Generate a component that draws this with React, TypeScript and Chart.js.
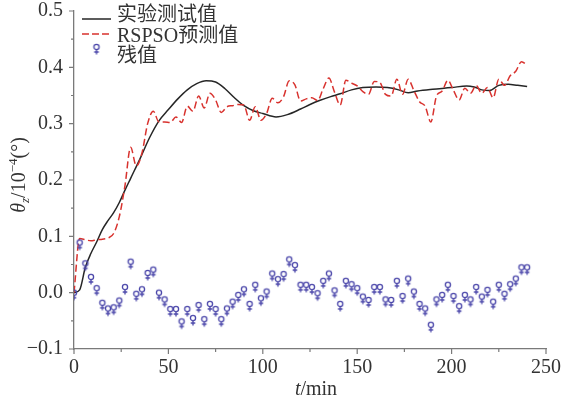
import React, { useEffect, useRef } from 'react';
import { Chart, registerables } from 'chart.js';

Chart.register(...registerables);

// ---------- data ----------
const measuredTimes = [0, 3, 6, 9, 12, 15, 18, 21, 24, 27, 30, 35, 40, 45, 50, 55, 60, 65, 70, 75, 80, 85, 90, 95, 100, 107, 113, 120, 125, 130, 136, 141, 147, 153, 160, 166, 172, 177, 182, 190, 200, 208, 212, 216, 220, 225, 230, 235, 240];
const measuredValues = [0, 0.005, 0.045, 0.07, 0.09, 0.112, 0.128, 0.142, 0.16, 0.182, 0.203, 0.238, 0.275, 0.305, 0.325, 0.344, 0.36, 0.371, 0.376, 0.374, 0.362, 0.346, 0.332, 0.323, 0.318, 0.312, 0.316, 0.326, 0.334, 0.341, 0.348, 0.353, 0.36, 0.364, 0.365, 0.364, 0.36, 0.355, 0.358, 0.361, 0.364, 0.367, 0.365, 0.36, 0.359, 0.368, 0.37, 0.368, 0.366];

const sampleTimes = [0, 3, 6, 9, 12, 15, 18, 21, 24, 27, 30, 33, 36, 39, 42, 45, 48, 51, 54, 57, 60, 63, 66, 69, 72, 75, 78, 81, 84, 87, 90, 93, 96, 99, 102, 105, 108, 111, 114, 117, 120, 123, 126, 129, 132, 135, 138, 141, 144, 147, 150, 153, 156, 159, 162, 165, 168, 171, 174, 177, 180, 183, 186, 189, 192, 195, 198, 201, 204, 207, 210, 213, 216, 219, 222, 225, 228, 231, 234, 237, 240];
const predictedValues = [0, 0.096, 0.094, 0.092, 0.094, 0.095, 0.097, 0.105, 0.135, 0.19, 0.258, 0.225, 0.248, 0.3, 0.322, 0.303, 0.303, 0.302, 0.312, 0.302, 0.331, 0.322, 0.349, 0.328, 0.354, 0.342, 0.32, 0.33, 0.332, 0.334, 0.333, 0.306, 0.33, 0.306, 0.318, 0.345, 0.337, 0.348, 0.376, 0.369, 0.34, 0.344, 0.346, 0.341, 0.362, 0.381, 0.356, 0.333, 0.377, 0.372, 0.367, 0.357, 0.352, 0.375, 0.373, 0.352, 0.349, 0.379, 0.352, 0.379, 0.359, 0.339, 0.331, 0.303, 0.349, 0.358, 0.377, 0.359, 0.342, 0.363, 0.354, 0.368, 0.354, 0.364, 0.346, 0.379, 0.368, 0.385, 0.393, 0.41, 0.404];
const residualValues = [0, 0.089, 0.052, 0.028, 0.008, -0.018, -0.028, -0.026, -0.014, 0.01, 0.055, -0.002, 0.006, 0.035, 0.041, 0, -0.012, -0.029, -0.029, -0.051, -0.029, -0.045, -0.022, -0.047, -0.02, -0.029, -0.047, -0.028, -0.016, -0.004, 0.006, -0.02, 0.014, -0.01, 0.002, 0.034, 0.024, 0.033, 0.059, 0.049, 0.014, 0.014, 0.01, -0.001, 0.021, 0.034, 0.004, -0.02, 0.021, 0.015, 0.008, -0.007, -0.013, 0.01, 0.01, -0.012, -0.013, 0.021, -0.006, 0.025, 0.002, -0.02, -0.028, -0.057, -0.012, -0.004, 0.014, -0.006, -0.024, -0.004, -0.012, 0.01, -0.007, 0.005, -0.016, 0.014, -0.002, 0.015, 0.025, 0.045, 0.045];

const xMajorTicks = [0, 50, 100, 150, 200, 250];
const xMinorTicks = [25, 75, 125, 175, 225];
const yMajorTicks = [-0.1, 0, 0.1, 0.2, 0.3, 0.4, 0.5];
const yMinorTicks = [-0.05, 0.05, 0.15, 0.25, 0.35, 0.45];

const seriesLabels = ['实验测试值', 'RSPSO预测值', '残值'];

// ---------- styles ----------
const BLACK = '#262626';
const RED = '#d8322e';
const BLUE = '#4b47aa';
const AXIS = '#7a7a7a';
const TEXT = '#333333';
const SERIF = "'Liberation Serif', 'Noto Sans CJK SC', serif";

function makeFemaleMarker(color: string): HTMLCanvasElement {
  const c = document.createElement('canvas');
  c.width = 10;
  c.height = 18;
  const g = c.getContext('2d')!;
  const cx = 5, cy = 9, r = 2.6;
  g.strokeStyle = color;
  g.lineWidth = 1.3;
  g.beginPath();
  g.arc(cx, cy, r, 0, Math.PI * 2);
  g.stroke();
  g.beginPath();
  g.moveTo(cx, cy + r);
  g.lineTo(cx, cy + r + 4.8);
  g.moveTo(cx - 2.3, cy + r + 2.4);
  g.lineTo(cx + 2.3, cy + r + 2.4);
  g.stroke();
  return c;
}

const zeroPadding = (s: any) => {
  s.paddingTop = 0;
  s.paddingBottom = 0;
  s.paddingLeft = 0;
  s.paddingRight = 0;
};

export default function App() {
  const canvasRef = useRef<HTMLCanvasElement | null>(null);

  useEffect(() => {
    const canvas = canvasRef.current;
    if (!canvas) return;
    const marker = makeFemaleMarker(BLUE);

    const decor = {
      id: 'decor',
      afterDraw(chart: any) {
        const { ctx, chartArea: a, scales } = chart;
        const x = scales.x, y = scales.y;
        ctx.save();
        // outward ticks
        ctx.strokeStyle = AXIS;
        ctx.lineWidth = 1.2;
        ctx.beginPath();
        xMajorTicks.forEach((v) => { const p = x.getPixelForValue(v); ctx.moveTo(p, a.bottom); ctx.lineTo(p, a.bottom + 5); });
        xMinorTicks.forEach((v) => { const p = x.getPixelForValue(v); ctx.moveTo(p, a.bottom); ctx.lineTo(p, a.bottom + 3); });
        yMajorTicks.forEach((v) => { const p = y.getPixelForValue(v); ctx.moveTo(a.left, p); ctx.lineTo(a.left - 5, p); });
        yMinorTicks.forEach((v) => { const p = y.getPixelForValue(v); ctx.moveTo(a.left, p); ctx.lineTo(a.left - 3, p); });
        ctx.stroke();

        ctx.fillStyle = TEXT;
        // x title: t/min
        ctx.textBaseline = 'alphabetic';
        ctx.textAlign = 'left';
        const xt1 = 't', xt2 = '/min';
        ctx.font = `italic 20px ${SERIF}`;
        const w1 = ctx.measureText(xt1).width;
        ctx.font = `20px ${SERIF}`;
        const w2 = ctx.measureText(xt2).width;
        const xc = (a.left + a.right) / 2 + 6;
        const xs = xc - (w1 + w2) / 2;
        ctx.font = `italic 20px ${SERIF}`;
        ctx.fillText(xt1, xs, 395);
        ctx.font = `20px ${SERIF}`;
        ctx.fillText(xt2, xs + w1, 395);

        // y title: θz/10^-4(°)
        const pieces = [
          { t: 'θ', f: `italic 20px ${SERIF}`, dy: 0 },
          { t: 'z', f: `italic 13px ${SERIF}`, dy: 4 },
          { t: '/10', f: `20px ${SERIF}`, dy: 0 },
          { t: '−4', f: `13px ${SERIF}`, dy: -8 },
          { t: '(°)', f: `20px ${SERIF}`, dy: 0 },
        ];
        let total = 0;
        const widths = pieces.map((p) => { ctx.font = p.f; const w = ctx.measureText(p.t).width; total += w; return w; });
        ctx.save();
        ctx.translate(18, (a.top + a.bottom) / 2 - 5);
        ctx.rotate(-Math.PI / 2);
        let cx = -total / 2;
        pieces.forEach((p, i) => {
          ctx.font = p.f;
          ctx.fillText(p.t, cx, 6.5 + p.dy);
          cx += widths[i];
        });
        ctx.restore();

        // legend
        const lx0 = a.left + 8, lx1 = a.left + 37, tx = a.left + 43;
        ctx.lineWidth = 1.5;
        ctx.strokeStyle = BLACK;
        ctx.setLineDash([]);
        ctx.beginPath();
        ctx.moveTo(lx0, a.top + 8); ctx.lineTo(lx1, a.top + 8);
        ctx.stroke();
        ctx.strokeStyle = RED;
        ctx.setLineDash([7, 3]);
        ctx.beginPath();
        ctx.moveTo(lx0, a.top + 23); ctx.lineTo(lx1, a.top + 23);
        ctx.stroke();
        ctx.setLineDash([]);
        ctx.drawImage(marker, (lx0 + lx1) / 2 - marker.width / 2, a.top + 36 - marker.height / 2);
        ctx.font = `20px ${SERIF}`;
        ctx.textBaseline = 'middle';
        ctx.fillStyle = TEXT;
        ctx.fillText(seriesLabels[0], tx, a.top + 5);
        ctx.fillText(seriesLabels[1], tx, a.top + 26);
        ctx.fillText(seriesLabels[2], tx, a.top + 46);
        ctx.restore();
      },
    };

    const chart = new Chart(canvas, {
      type: 'line',
      data: {
        datasets: [
          {
            label: seriesLabels[0],
            data: measuredTimes.map((t, i) => ({ x: t, y: measuredValues[i] })),
            borderColor: BLACK,
            borderWidth: 1.5,
            pointRadius: 0,
            cubicInterpolationMode: 'monotone',
            fill: false,
            order: 2,
          },
          {
            label: seriesLabels[1],
            data: sampleTimes.map((t, i) => ({ x: t, y: predictedValues[i] })),
            borderColor: RED,
            borderWidth: 1.5,
            borderDash: [7, 3.5],
            pointRadius: 0,
            cubicInterpolationMode: 'monotone',
            fill: false,
            order: 1,
          },
          {
            label: seriesLabels[2],
            data: sampleTimes.map((t, i) => ({ x: t, y: residualValues[i] })),
            showLine: false,
            pointStyle: marker as any,
            pointRadius: 5,
            borderColor: BLUE,
            backgroundColor: BLUE,
            order: 0,
          },
        ],
      },
      options: {
        animation: false,
        responsive: false,
        devicePixelRatio: 1,
        layout: { padding: { top: 11, right: 18, bottom: 0, left: 0 } },
        plugins: { legend: { display: false }, tooltip: { enabled: false } },
        scales: {
          x: {
            type: 'linear',
            min: 0,
            max: 250,
            grid: { display: false, drawTicks: false },
            border: { display: true, color: AXIS, width: 1.3 },
            ticks: {
              stepSize: 50,
              padding: 9,
              color: TEXT,
              font: { family: SERIF, size: 20, lineHeight: 1 },
              maxRotation: 0,
              callback: (v: any) => String(v),
            },
            afterFit: (s: any) => { s.height = 49; zeroPadding(s); },
          },
          y: {
            type: 'linear',
            min: -0.1,
            max: 0.5,
            grid: { display: false, drawTicks: false },
            border: { display: true, color: AXIS, width: 1.3 },
            ticks: {
              stepSize: 0.1,
              padding: 11,
              color: TEXT,
              font: { family: SERIF, size: 20, lineHeight: 1 },
              callback: (v: any) => {
                const n = Number(v);
                const s = Math.abs(n).toFixed(1);
                return n < -1e-9 ? '−' + s : s;
              },
            },
            afterFit: (s: any) => { s.width = 74; zeroPadding(s); },
          },
        },
      },
      plugins: [decor],
    });

    return () => chart.destroy();
  }, []);

  return (
    <div style={{ position: 'fixed', left: 0, top: 0, width: 564, height: 398, background: '#fff' }}>
      <canvas ref={canvasRef} width={564} height={398} style={{ display: 'block' }} />
    </div>
  );
}
